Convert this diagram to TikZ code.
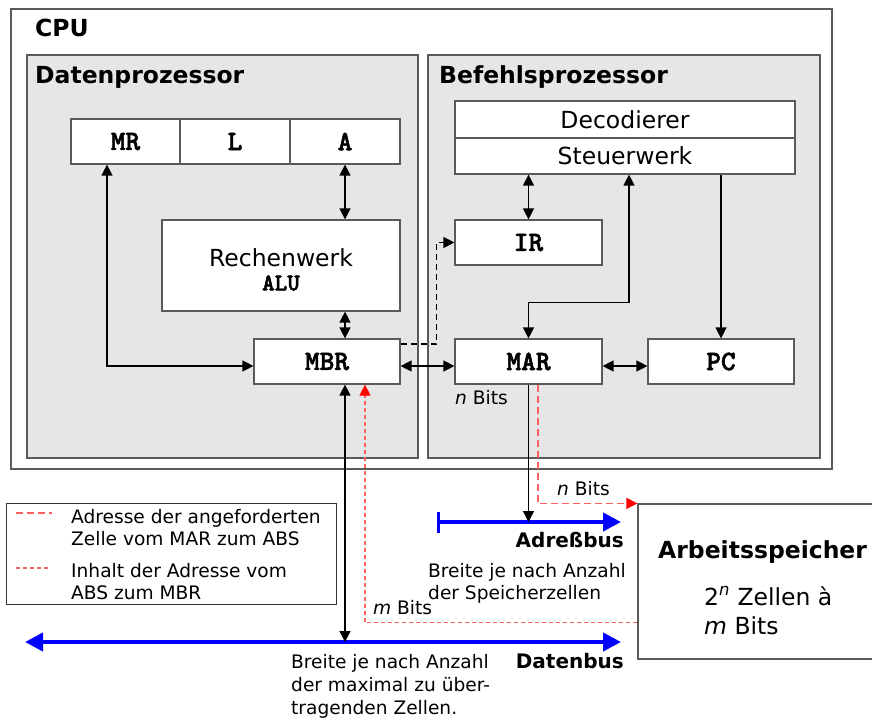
\documentclass[tikz,border=0pt]{standalone}
\usepackage{fontspec}
\setmainfont{DejaVu Sans}
\newfontfamily\regmono{lmmonolt10-bold}[Extension=.otf,FakeBold=2]
\usetikzlibrary{arrows.meta}
\definecolor{boxgray}{HTML}{E6E6E6}
\definecolor{edgegray}{HTML}{5A5A5A}
\definecolor{linkred}{HTML}{FF6060}
\newcommand{\bigfont}{\fontsize{23.5}{28}\selectfont}
\newcommand{\smallfont}{\fontsize{18.6}{22.5}\selectfont}
\newcommand{\busfont}{\fontsize{20}{24}\selectfont\bfseries}
\newcommand{\regfont}{\fontsize{28}{32}\selectfont\regmono}
\newcommand{\alufont}{\fontsize{24}{28}\selectfont\regmono}
\tikzstyle{frame}=[draw=edgegray,line width=1.2pt,fill=white,inner sep=0pt]
\tikzstyle{unit}=[draw=edgegray,line width=1.2pt,fill=boxgray,inner sep=0pt]
\tikzstyle{title}=[font=\bigfont\bfseries,anchor=base west,inner sep=0pt]
\tikzstyle{reg}=[draw=edgegray,line width=1.2pt,fill=white,inner sep=0pt,minimum height=45pt,font=\regfont]
\tikzstyle{label}=[font=\smallfont,inner sep=0pt]
\tikzstyle{link}=[line width=1.3pt]
\tikzstyle{reqline}=[linkred,line width=1.2pt,dash pattern=on 7pt off 4pt]
\tikzstyle{dataline}=[linkred,line width=1.2pt,dash pattern=on 4pt off 3pt]
\tikzstyle{bus}=[blue,line width=4pt]

\begin{document}
\begin{tikzpicture}[x=1pt,y=-1pt,>={Triangle[length=11pt,width=11pt]}]
\useasboundingbox (0,0) rectangle (872,718);

% CPU and its two parts
\node[frame,minimum width=821pt,minimum height=460pt] (cpu) at (421.5,239) {};
\node[title] (cpu-label) at (35,36) {CPU};
\node[unit,minimum width=391pt,minimum height=403pt] (datenproz) at (222.5,256.5) {};
\node[title] (datenproz-label) at (35,83) {Datenprozessor};
\node[unit,minimum width=392pt,minimum height=403pt] (befehlsproz) at (624,256.5) {};
\node[title] (befehlsproz-label) at (439,83) {Befehlsprozessor};

% Datenprozessor
\node[reg,minimum width=109pt] (mr) at (125.5,141.5) {MR};
\node[reg,minimum width=110pt] (l) at (235,141.5) {L};
\node[reg,minimum width=110pt] (a) at (345,141.5) {A};
\node[reg,minimum width=238pt,minimum height=91pt] (alu) at (281,265.5) {};
\node[font=\bigfont,align=center,inner sep=0pt] (alu-label) at (281,269.5) {Rechenwerk\\[-4pt]{\alufont ALU}};
\node[reg,minimum width=146pt] (mbr) at (327,361.5) {MBR};

% Befehlsprozessor
\node[reg,font=\bigfont,minimum width=340pt,minimum height=37pt] (decoder) at (625,119.5) {Decodierer};
\node[reg,font=\bigfont,minimum width=340pt,minimum height=36pt] (steuer) at (625,156) {Steuerwerk};
\node[reg,minimum width=147pt] (ir) at (528.5,242.5) {IR};
\node[reg,minimum width=147pt] (mar) at (528.5,361.5) {MAR};
\node[reg,minimum width=146pt] (pc) at (721,361.5) {PC};
\node[label,anchor=base west] (mar-bits) at (455,404) {\textit{n} Bits};

% Arbeitsspeicher
\node[frame,minimum width=244pt,minimum height=155pt] (mem) at (760,581.5) {};
\node[title] (mem-label) at (658,558) {Arbeitsspeicher};
\node[font=\bigfont,anchor=base west,inner sep=0pt] (mem-cells) at (704,605) {2\textsuperscript{\itshape n} Zellen à};
\node[font=\bigfont,anchor=base west,inner sep=0pt] (mem-bits) at (704,634) {\textit{m} Bits};

% Busse
\coordinate (abus-w) at (437,522);
\coordinate (abus-e) at (621,522);
\coordinate (dbus-w) at (25,642);
\coordinate (dbus-e) at (621,642);
\draw[bus,{Bar[width=21pt,line width=3pt]}-{Triangle[length=18pt,width=18pt]}] (abus-w) -- (abus-e);
\draw[bus,{Triangle[length=18pt,width=18pt]}-{Triangle[length=18pt,width=18pt]}] (dbus-w) -- (dbus-e);
\node[font=\busfont,anchor=base east,inner sep=0pt] (abus-label) at (624,547) {Adreßbus};
\node[label,anchor=north west,align=left] (abus-text) at (428,563) {Breite je nach Anzahl\\der Speicherzellen};
\node[font=\busfont,anchor=base east,inner sep=0pt] (dbus-label) at (624,668) {Datenbus};
\node[font=\fontsize{18.6}{23}\selectfont,inner sep=0pt,anchor=north west,align=left] (dbus-text) at (291,654) {Breite je nach Anzahl\\der maximal zu über-\\tragenden Zellen.};

% Legende
\node[frame,draw=black!80,line width=1pt,minimum width=329.5pt,minimum height=101pt] (legend) at (171.25,554) {};
\draw[reqline] (16,513) -- (52,513);
\draw[dataline] (16,568) -- (50,568);
\node[label,anchor=north west,align=left] (legend-req) at (71,509) {Adresse der angeforderten\\Zelle vom MAR zum ABS};
\node[label,anchor=north west,align=left] (legend-data) at (71,563) {Inhalt der Adresse vom\\ABS zum MBR};

% Verbindungen
\draw[link,<->] ([xshift=-18.5pt]mr.south) |- ([yshift=-4.5pt]mbr.west);
\draw[link,<->] (a.south) -- (a.south |- alu.north);
\draw[link,<->] (alu.south -| a.south) -- (mbr.north -| a.south);
\draw[link,<->] ([yshift=-4.5pt]mbr.east) -- ([yshift=-4.5pt]mar.west);
\draw[link,dash pattern=on 6pt off 4pt,->] ([yshift=17.5pt]mbr.east) -| ([xshift=-18pt]ir.west) -- (ir.west);
\draw[link,<->] (steuer.south -| ir.north) -- (ir.north);
\draw[link,<->] ([xshift=4pt]steuer.south) -- ++(0,128) -| (mar.north);
\draw[link,->] (steuer.south -| pc.north) -- (pc.north);
\draw[link,<->] ([yshift=-4.5pt]mar.east) -- ([yshift=-4.5pt]pc.west);
\draw[link,->] (mar.south) -- (mar.south |- abus-w);
\draw[link,<->] ([xshift=18pt]mbr.south) -- ([xshift=18pt]mbr.south |- dbus-w);
\draw[reqline,-{Triangle[length=11pt,width=11pt,color=red]}] ([xshift=9.5pt]mar.south) |- (mem.north west);
\draw[dataline,-{Triangle[length=11pt,width=11pt,color=red]}] ([yshift=-41pt]mem.west) -| ([xshift=38pt]mbr.south);
\node[label,anchor=base west] (req-bits) at (557,495) {\textit{n} Bits};
\node[label,anchor=base west] (data-bits) at (373,614) {\textit{m} Bits};
\end{tikzpicture}
\end{document}
